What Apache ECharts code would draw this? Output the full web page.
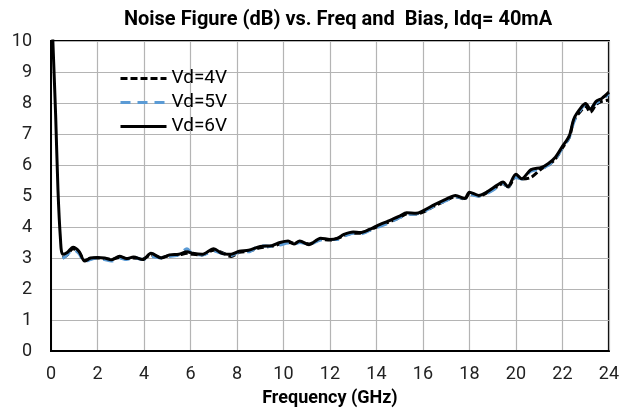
<!DOCTYPE html>
<html>
<head>
<meta charset="utf-8">
<script src="https://cdn.jsdelivr.net/npm/echarts@6/dist/echarts.min.js"></script>
<style>
  html, body { margin: 0; padding: 0; background: #fff; }
  #chart { width: 622px; height: 412px; }
</style>
</head>
<body>
<div id="chart"></div>
<script>
// frequency points (GHz)
var freq = [
  0.05, 0.1, 0.2, 0.3, 0.4,
  0.5, 0.7, 0.95, 1.2, 1.45,
  1.7, 2.0, 2.3, 2.6, 2.95,
  3.25, 3.55, 3.95, 4.3, 4.75,
  5.1, 5.5, 5.85, 6.1, 6.5,
  7.0, 7.35, 7.75, 8.1, 8.5,
  9.0, 9.5, 9.85, 10.2, 10.45,
  10.7, 11.1, 11.6, 12.0, 12.3,
  12.6, 13.0, 13.3, 13.7, 14.0,
  14.5, 15.0, 15.3, 15.7, 16.0,
  16.5, 17.0, 17.4, 17.8, 18.0,
  18.4, 18.8, 19.2, 19.45, 19.65,
  20.0, 20.25, 20.65, 21.1, 21.4,
  21.7, 22.0, 22.3, 22.5, 22.8,
  23.0, 23.2, 23.45, 23.7, 24.0
];
// noise figure (dB)
var vd4 = [
  null, null, null, null, null,
  3.0, 3.1, 3.3, 3.2, 2.92,
  2.98, 3.0, 2.98, 2.96, 3.02,
  2.98, 3.0, 2.97, 3.1, 3.02,
  3.08, 3.1, 3.15, 3.12, 3.1,
  3.25, 3.18, 3.05, 3.18, 3.22,
  3.33, 3.38, 3.45, 3.5, 3.48,
  3.52, 3.45, 3.6, 3.58, 3.62,
  3.72, 3.8, 3.8, 3.9, 4.0,
  4.15, 4.3, 4.42, 4.42, 4.48,
  4.68, 4.86, 4.98, 4.9, 5.08,
  5.0, 5.12, 5.3, 5.4, 5.28,
  5.62, 5.55, 5.6, 5.88, 6.0,
  6.2, 6.55, 6.9, 7.45, 7.75,
  7.9, 7.7, 7.95, 8.05, 8.1
];
var vd5 = [
  null, null, null, null, null,
  2.98, 3.1, 3.28, 3.15, 2.88,
  2.95, 3.0, 2.95, 2.9, 3.0,
  2.95, 3.02, 2.95, 3.05, 3.0,
  3.05, 3.1, 3.3, 3.12, 3.1,
  3.22, 3.15, 3.08, 3.2, 3.2,
  3.4, 3.38, 3.42, 3.48, 3.45,
  3.5, 3.45, 3.58, 3.6, 3.6,
  3.7, 3.8, 3.78, 3.88, 3.98,
  4.12, 4.3, 4.4, 4.42, 4.48,
  4.68, 4.85, 4.98, 4.92, 5.05,
  5.0, 5.1, 5.28, 5.4, 5.3,
  5.6, 5.55, 5.8, 5.88, 6.0,
  6.2, 6.55, 6.9, 7.4, 7.8,
  7.95, 7.85, 8.0, 8.1, 8.3
];
var vd6 = [
  10.6, 9.6, 7.6, 5.2, 3.7,
  3.12, 3.18, 3.35, 3.22, 2.9,
  3.0, 3.02, 3.0, 2.94, 3.06,
  2.98, 3.03, 2.95, 3.15, 3.0,
  3.1, 3.12, 3.2, 3.15, 3.12,
  3.3, 3.15, 3.12, 3.22, 3.25,
  3.37, 3.4, 3.5, 3.55, 3.45,
  3.55, 3.43, 3.64, 3.6, 3.63,
  3.76, 3.84, 3.82, 3.92, 4.03,
  4.19, 4.35, 4.46, 4.44, 4.52,
  4.72, 4.9, 5.02, 4.92, 5.12,
  5.02, 5.15, 5.35, 5.45, 5.3,
  5.7, 5.56, 5.85, 5.92, 6.05,
  6.25, 6.6, 6.95, 7.5, 7.85,
  7.98, 7.8, 8.05, 8.15, 8.35
];

function pairs(vals) {
  var out = [];
  for (var i = 0; i < freq.length; i++) {
    if (vals[i] !== null) out.push([freq[i], vals[i]]);
  }
  return out;
}

var font = "Roboto, 'Liberation Sans', sans-serif";
var myChart = echarts.init(document.getElementById("chart"));
myChart.setOption({
  backgroundColor: "#fff",
  animation: false,
  title: {
    text: "Noise Figure (dB) vs. Freq and  Bias, Idq= 40mA",
    left: 333,
    top: 5,
    textAlign: "center",
    textStyle: { fontFamily: font, fontSize: 20, fontWeight: "bold", color: "#000" },
  },
  legend: {
    orient: "vertical",
    left: 114,
    top: 64,
    itemWidth: 46,
    itemHeight: 14,
    itemGap: 5,
    textStyle: { fontFamily: font, fontSize: 19, color: "#000" },
    itemStyle: { opacity: 0 },
    lineStyle: { width: 3 },
    data: ["Vd=4V", "Vd=5V", "Vd=6V"],
  },
  grid: {
    left: 51,
    right: 13,
    top: 41,
    bottom: 60,
    show: true,
    borderColor: "#000",
    borderWidth: 2,
  },
  xAxis: {
    type: "value",
    min: 0,
    max: 24,
    interval: 2,
    name: "Frequency (GHz)",
    nameLocation: "middle",
    nameGap: 38,
    nameTextStyle: { fontFamily: font, fontSize: 18, fontWeight: "bold", color: "#000" },
    axisLine: { lineStyle: { color: "#000", width: 2 } },
    axisTick: { show: false },
    axisLabel: { fontFamily: font, fontSize: 18, color: "#222", margin: 14 },
    splitLine: { lineStyle: { color: "#b4b4b4", width: 1.2 } },
  },
  yAxis: {
    type: "value",
    min: 0,
    max: 10,
    interval: 1,
    axisLine: { show: true, lineStyle: { color: "#000", width: 2 } },
    axisTick: { show: false },
    axisLabel: { fontFamily: font, fontSize: 18, color: "#222", margin: 19 },
    splitLine: { lineStyle: { color: "#b4b4b4", width: 1.2 } },
  },
  series: [
    {
      name: "Vd=4V",
      type: "line",
      data: pairs(vd4),
      smooth: 0.3,
      symbol: "none",
      lineStyle: { color: "#000", width: 3, type: [7, 3] },
      itemStyle: { color: "#000" },
    },
    {
      name: "Vd=5V",
      type: "line",
      data: pairs(vd5),
      smooth: 0.3,
      symbol: "none",
      lineStyle: { color: "#5b9bd5", width: 3, type: [10, 7] },
      itemStyle: { color: "#5b9bd5" },
    },
    {
      name: "Vd=6V",
      type: "line",
      data: pairs(vd6),
      smooth: 0.3,
      symbol: "none",
      lineStyle: { color: "#000", width: 3 },
      itemStyle: { color: "#000" },
    },
  ],
});
</script>
</body>
</html>
